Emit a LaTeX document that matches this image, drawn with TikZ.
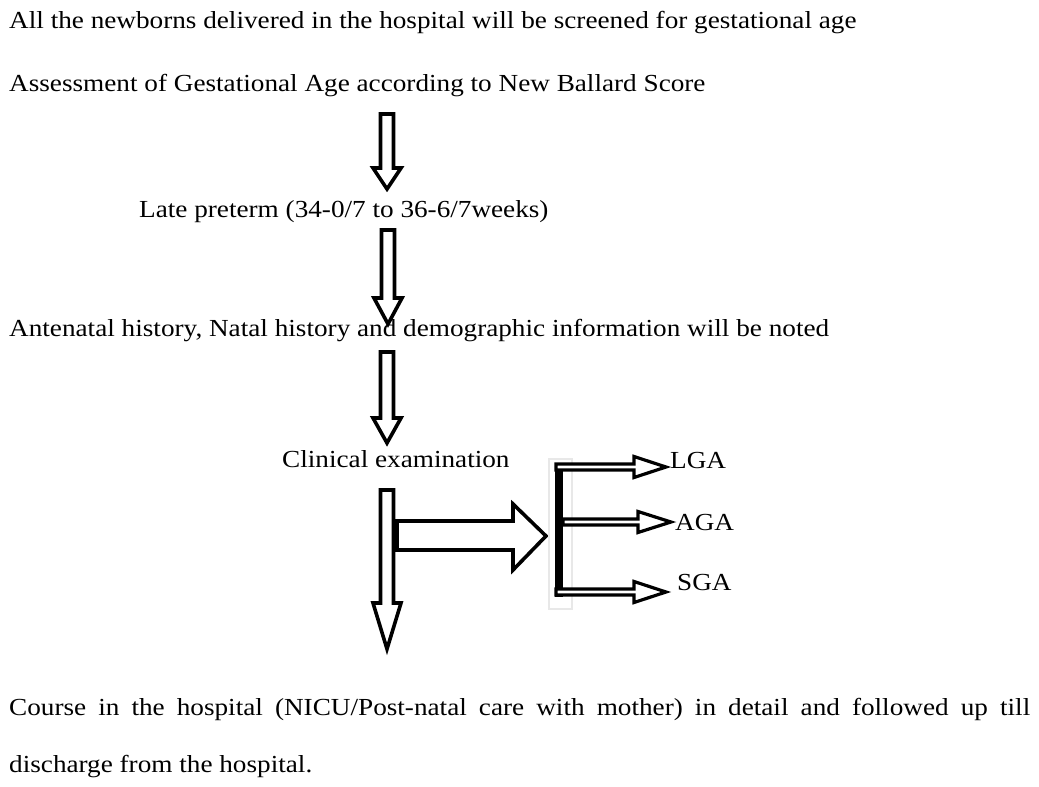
\documentclass[tikz,border=0pt]{standalone}
\usepackage{fontspec}
\setmainfont[FakeStretch=1.11]{Liberation Serif}
\newcommand\DownBlock[4]{% x, top, head start, tip
  \draw[blockarrow] (#1-6.5,#2) -- (#1+6.5,#2) -- (#1+6.5,#3) -- (#1+14,#3) -- (#1,#4) -- (#1-14,#3) -- (#1-6.5,#3) -- cycle;}
\newcommand\SmallRight[4]{% xstart, y, head start, tip
  \draw[smallarrow] (#1,#2-3) -- (#3,#2-3) -- (#3,#2-10.5) -- (#4,#2) -- (#3,#2+10.5) -- (#3,#2+3) -- (#1,#2+3) -- cycle;}
\tikzset{
  txt/.style={anchor=base west, inner sep=0pt, font=\fontsize{24.5}{30}\selectfont},
  blockarrow/.style={draw=black, fill=white, line width=3.6pt, miter limit=10},
  smallarrow/.style={draw=black, fill=white, line width=3.2pt, miter limit=10},
}
\begin{document}
\begin{tikzpicture}[x=1pt,y=-1pt]
\useasboundingbox[fill=white] (0,0) rectangle (1039,787);
\node[txt] (t1) at (9,28) {All the newborns delivered in the hospital will be screened for gestational age};
\node[txt] (t2) at (9,91) {Assessment of Gestational Age according to New Ballard Score};
\node[txt] (t3) at (139,217) {Late preterm (34-0/7 to 36-6/7weeks)};
\node[txt] (t4) at (9,336) {Antenatal history, Natal history and demographic information will be noted};
\node[txt] (t5) at (282,467) {Clinical examination};
\node[txt] (lga) at (670,468) {LGA};
\node[txt] (aga) at (675,530) {AGA};
\node[txt] (sga) at (677,590) {SGA};
\node[txt] (t6) at (9,715) {\makebox[1021pt][s]{Course in the hospital (NICU/Post-natal care with mother) in detail and followed up till}};
\node[txt] (t7) at (9,772) {discharge from the hospital.};
% vertical block arrows
\DownBlock{387}{114}{168}{189}
\DownBlock{388}{230}{298}{324}
\DownBlock{387}{352}{418}{443}
\DownBlock{387}{490}{603}{649}
% horizontal block arrow
\draw[blockarrow] (397,521) -- (513,521) -- (513,504) -- (546,536) -- (513,570) -- (513,550) -- (397,550) -- cycle;
% bracket
\draw[gray!18, line width=2.5pt] (549,459) rectangle (572,609);
\draw[black, line width=7.5pt] (559,463) -- (559,597);
\SmallRight{556}{467}{634}{666}
\SmallRight{563}{522}{638}{671}
\SmallRight{556}{592}{634}{666}
\end{tikzpicture}
\end{document}
